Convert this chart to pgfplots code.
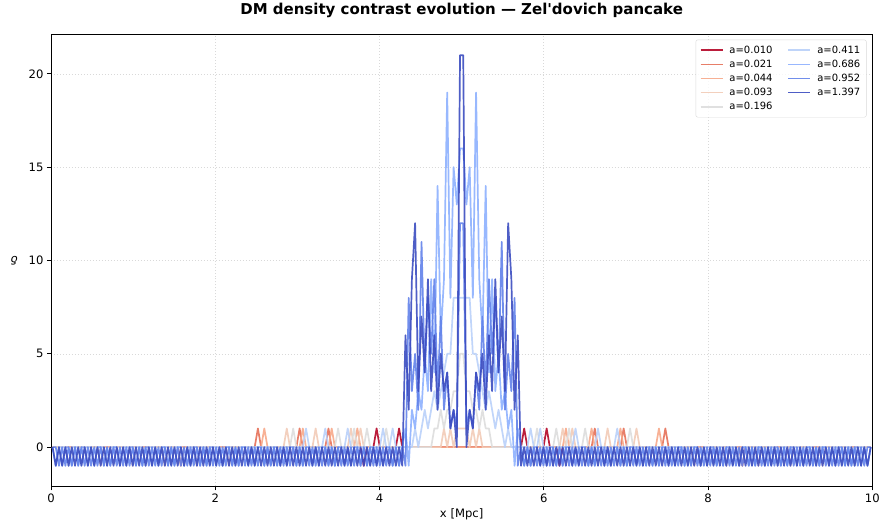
\documentclass[border=0pt]{standalone}
\usepackage{fontspec}
\setmainfont{DejaVu Sans}
\usepackage{pgfplots}
\pgfplotsset{compat=1.18}
\definecolor{c1}{HTML}{B40426}
\definecolor{c2}{HTML}{E57058}
\definecolor{c3}{HTML}{F7A889}
\definecolor{c4}{HTML}{F2CBB7}
\definecolor{c5}{HTML}{DDDDDD}
\definecolor{c6}{HTML}{B9D0F9}
\definecolor{c7}{HTML}{8DB0FE}
\definecolor{c8}{HTML}{6282EA}
\definecolor{c9}{HTML}{3B4CC0}
\tikzset{dl/.style={line width=1.7pt, line join=round, draw opacity=0.9}}
\begin{document}
\begin{tikzpicture}
\begin{axis}[
  scale only axis, width=822pt, height=452pt,
  xmin=-0.5, xmax=255.5, ymin=-2.1, ymax=22.1,
  xtick={-0.5,50.7,101.9,153.1,204.3,255.5}, xticklabels={0,2,4,6,8,10},
  ytick={0,5,10,15,20},
  tick align=outside, tick pos=left, major tick length=4pt,
  every tick/.style={black, line width=0.9pt},
  axis line style={line width=0.9pt},
  grid=major, grid style={gray!30, line width=0.6pt, dash pattern=on 1pt off 2pt},
  ticklabel style={font=\fontsize{11.6}{14}\selectfont},
  /pgf/number format/assume math mode=true,
  title={\textbf{DM density contrast evolution — Zel\textquotesingle dovich pancake}},
  title style={at={(axis description cs:0.5,1)}, anchor=base, yshift=14pt, font=\fontsize{15}{18}\selectfont},
  xlabel={x [Mpc]},
  xlabel style={at={(axis description cs:0.5,0)}, anchor=base, yshift=-31pt, font=\fontsize{11.6}{14}\selectfont},
  ylabel={\itshape δ},
  ylabel style={at={(axis description cs:-0.045,0.5)}, anchor=center, rotate=90, font=\fontsize{11.6}{14}\selectfont},
  legend columns=2,
  legend cell align=left,
  legend image code/.code={\draw[#1] (0pt,0pt) -- (22pt,0pt);},
  legend style={at={(rel axis cs:0.993,0.989)}, anchor=north east, draw=black!15, rounded corners=2pt,
    fill=white, fill opacity=0.8, text opacity=1, font=\fontsize{10}{12}\selectfont,
    row sep=1.2pt, inner sep=4pt,
    /tikz/every odd column/.append style={column sep=4pt},
    /tikz/every even column/.append style={column sep=13pt}},
]
% a=0.010
\addplot[c1, dl, forget plot] coordinates {(0,0)(96,0)(97,-1)(98,0)(100,0)(101,1)(102,0)(107,0)(108,1)(109,0)(146,0)(147,1)(148,0)(153,0)(154,1)(155,0)(157,0)(158,-1)(159,0)(255,0)};
% a=0.021
\addplot[c2, dl, forget plot] coordinates {(0,0)(39,0)(40,-1)(41,0)(63,0)(64,1)(65,0)(76,0)(77,1)(78,0)(85,0)(86,1)(87,0)(168,0)(169,1)(170,0)(177,0)(178,1)(179,0)(190,0)(191,1)(192,0)(214,0)(215,-1)(216,0)(255,0)};
% a=0.044
\addplot[c3, dl, forget plot] coordinates {(0,0)(24,0)(25,-1)(26,0)(44,0)(45,-1)(46,0)(65,0)(66,1)(67,0)(77,0)(78,1)(79,0)(86,0)(87,1)(88,0)(94,0)(95,1)(96,0)(159,0)(160,1)(161,0)(167,0)(168,1)(169,0)(176,0)(177,1)(178,0)(188,0)(189,1)(190,0)(209,0)(210,-1)(211,0)(229,0)(230,-1)(231,0)(255,0)};
% a=0.093
\addplot[c4, dl, forget plot] coordinates {(0,0)(14,0)(15,-1)(16,0)(34,0)(35,-1)(36,0)(54,0)(55,-1)(56,0)(72,0)(73,1)(74,0)(81,0)(82,1)(83,0)(92,0)(93,1)(94,0)(95,0)(96,1)(97,0)(121,0)(122,1)(123,0)(124,1)(125,0)(126,1)(127,1)(128,1)(129,1)(130,0)(131,1)(132,0)(133,1)(134,0)(158,0)(159,1)(160,0)(161,0)(162,1)(163,0)(172,0)(173,1)(174,0)(181,0)(182,1)(183,0)(199,0)(200,-1)(201,0)(219,0)(220,-1)(221,0)(239,0)(240,-1)(241,0)(255,0)};
% a=0.196
\addplot[c5, dl, forget plot] coordinates {(0,0)(4,0)(5,-1)(6,0)(16,0)(17,-1)(18,0)(28,0)(29,-1)(30,0)(40,0)(41,-1)(42,0)(52,0)(53,-1)(54,0)(74,0)(75,1)(76,0)(88,0)(89,1)(90,0)(93,0)(94,1)(95,0)(97,0)(98,1)(99,0)(103,0)(104,1)(105,0)(118,0)(119,1)(120,1)(121,2)(122,1)(123,2)(124,2)(125,3)(126,3)(127,5)(128,5)(129,3)(130,3)(131,2)(132,2)(133,1)(134,2)(135,1)(136,1)(137,0)(150,0)(151,1)(152,0)(156,0)(157,1)(158,0)(160,0)(161,1)(162,0)(165,0)(166,1)(167,0)(179,0)(180,1)(181,0)(201,0)(202,-1)(203,0)(213,0)(214,-1)(215,0)(225,0)(226,-1)(227,0)(237,0)(238,-1)(239,0)(249,0)(250,-1)(251,0)(255,0)};
% a=0.411
\addplot[c6, dl, forget plot] coordinates {(0,0)(1,-1)(2,0)(4,0)(5,-1)(6,0)(8,0)(9,-1)(10,0)(12,0)(13,-1)(14,0)(16,0)(17,-1)(18,0)(20,0)(21,-1)(22,0)(24,0)(25,-1)(26,0)(28,0)(29,-1)(30,0)(32,0)(33,-1)(34,0)(36,0)(37,-1)(38,0)(40,0)(41,-1)(42,0)(44,0)(45,-1)(46,0)(48,0)(49,-1)(50,0)(52,0)(53,-1)(54,0)(56,0)(57,-1)(58,0)
(69,0)(70,-1)(71,0)(78,0)(79,1)(80,0)(81,-1)(82,0)(84,0)(85,1)(86,0)(87,0)(88,-1)(89,0)(91,0)(92,1)(93,0)(98,0)(99,-1)(100,0)(102,0)(103,1)(104,0)(105,0)(106,1)(107,0)(112,0)
(113,1)(114,0)(115,1)(116,2)(117,1)(118,2)(119,3)(120,2)(121,3)(122,4)(123,5)(124,5)(125,8)(126,8)(127,8)(128,8)(129,8)(130,8)(131,5)(132,5)(133,4)(134,3)(135,2)(136,3)(137,2)(138,1)(139,2)(140,1)(141,0)(142,1)(143,0)
(148,0)(149,1)(150,0)(151,0)(152,1)(153,0)(155,0)(156,-1)(157,0)(162,0)(163,1)(164,0)(166,0)(167,-1)(168,0)(169,0)(170,1)(171,0)(173,0)(174,-1)(175,0)(176,1)(177,0)(184,0)(185,-1)(186,0)
(197,0)(198,-1)(199,0)(201,0)(202,-1)(203,0)(205,0)(206,-1)(207,0)(209,0)(210,-1)(211,0)(213,0)(214,-1)(215,0)(217,0)(218,-1)(219,0)(221,0)(222,-1)(223,0)(225,0)(226,-1)(227,0)(229,0)(230,-1)(231,0)(233,0)(234,-1)(235,0)(237,0)(238,-1)(239,0)(241,0)(242,-1)(243,0)(245,0)(246,-1)(247,0)(249,0)(250,-1)(251,0)(253,0)(254,-1)(255,0)};
% a=0.686
\addplot[c7, dl, forget plot] coordinates {
(0,0)(1,-1)(2,0)(3,-1)(4,0)(5,0)(6,-1)(7,0)(8,-1)(9,0)
(10,0)(11,-1)(12,0)(13,-1)(14,0)(15,0)(16,-1)(17,0)(18,-1)(19,0)
(20,0)(21,-1)(22,0)(23,-1)(24,0)(25,0)(26,-1)(27,0)(28,-1)(29,0)
(30,0)(31,-1)(32,0)(33,-1)(34,0)(35,0)(36,-1)(37,0)(38,-1)(39,0)
(40,0)(41,-1)(42,0)(43,-1)(44,0)(45,0)(46,-1)(47,0)(48,-1)(49,0)
(50,0)(51,-1)(52,0)(53,-1)(54,0)(55,0)(56,-1)(57,0)(58,-1)(59,0)
(60,0)(61,-1)(62,0)(63,-1)(64,0)(65,0)(66,-1)(67,0)(68,-1)(69,0)
(70,0)(71,-1)(72,0)(73,-1)(74,0)(75,0)(76,-1)(77,0)(78,-1)(79,0)
(80,0)(81,-1)(82,0)(83,-1)(84,0)(85,0)(86,-1)(87,0)(88,-1)(89,0)
(90,0)(91,-1)(92,0)(93,-1)(94,0)(95,0)(96,-1)(97,0)(98,-1)(99,0)
(100,0)(101,-1)(102,0)(103,-1)(104,0)(105,0)(106,-1)(107,0)(108,-1)
(109,0)(110,1)(111,-1)(112,2)(113,1)(114,3)(115,2)(116,5)(117,3)(118,9)(119,4)(120,14)(121,6)(122,9)(123,19)(124,8)(125,15)(126,13)(127,16)
(128,16)(129,13)(130,15)(131,8)(132,19)(133,9)(134,6)(135,14)(136,4)(137,9)(138,3)(139,5)(140,2)(141,3)(142,1)(143,2)(144,-1)(145,1)(146,0)
(147,-1)(148,0)(149,-1)
(150,0)(151,0)(152,-1)(153,0)(154,-1)(155,0)(156,0)(157,-1)(158,0)(159,-1)
(160,0)(161,0)(162,-1)(163,0)(164,-1)(165,0)(166,0)(167,-1)(168,0)(169,-1)
(170,0)(171,0)(172,-1)(173,0)(174,-1)(175,0)(176,0)(177,-1)(178,0)(179,-1)
(180,0)(181,0)(182,-1)(183,0)(184,-1)(185,0)(186,0)(187,-1)(188,0)(189,-1)
(190,0)(191,0)(192,-1)(193,0)(194,-1)(195,0)(196,0)(197,-1)(198,0)(199,-1)
(200,0)(201,0)(202,-1)(203,0)(204,-1)(205,0)(206,0)(207,-1)(208,0)(209,-1)
(210,0)(211,0)(212,-1)(213,0)(214,-1)(215,0)(216,0)(217,-1)(218,0)(219,-1)
(220,0)(221,0)(222,-1)(223,0)(224,-1)(225,0)(226,0)(227,-1)(228,0)(229,-1)
(230,0)(231,0)(232,-1)(233,0)(234,-1)(235,0)(236,0)(237,-1)(238,0)(239,-1)
(240,0)(241,0)(242,-1)(243,0)(244,-1)(245,0)(246,0)(247,-1)(248,0)(249,-1)
(250,0)(251,0)(252,-1)(253,0)(254,-1)(255,0)};
% a=0.952
\addplot[c8, dl, forget plot] coordinates {
(0,0)(1,0)(2,-1)(3,0)(4,-1)(5,0)(6,-1)(7,0)(8,-1)(9,0)
(10,-1)(11,0)(12,-1)(13,0)(14,-1)(15,0)(16,-1)(17,0)(18,-1)(19,0)
(20,-1)(21,0)(22,-1)(23,0)(24,-1)(25,0)(26,-1)(27,0)(28,-1)(29,0)
(30,-1)(31,0)(32,-1)(33,0)(34,-1)(35,0)(36,-1)(37,0)(38,-1)(39,0)
(40,-1)(41,0)(42,-1)(43,0)(44,-1)(45,0)(46,-1)(47,0)(48,-1)(49,0)
(50,-1)(51,0)(52,-1)(53,0)(54,-1)(55,0)(56,-1)(57,0)(58,-1)(59,0)
(60,-1)(61,0)(62,-1)(63,0)(64,-1)(65,0)(66,-1)(67,0)(68,-1)(69,0)
(70,-1)(71,0)(72,-1)(73,0)(74,-1)(75,0)(76,-1)(77,0)(78,-1)(79,0)
(80,-1)(81,0)(82,-1)(83,0)(84,-1)(85,0)(86,-1)(87,0)(88,-1)(89,0)
(90,-1)(91,0)(92,-1)(93,0)(94,-1)(95,0)(96,-1)(97,0)(98,-1)(99,0)
(100,-1)(101,0)(102,-1)(103,0)(104,-1)(105,0)(106,-1)(107,0)(108,-1)(109,0)(110,-1)
(111,8)(112,3)(113,5)(114,2)(115,11)(116,4)(117,8)(118,5)(119,9)(120,3)(121,7)(122,2)(123,4)(124,1)(125,2)(126,1)(127,12)
(128,12)(129,1)(130,2)(131,1)(132,4)(133,2)(134,7)(135,3)(136,9)(137,5)(138,8)(139,4)(140,11)(141,2)(142,5)(143,3)(144,8)
(145,-1)(146,0)(147,-1)(148,0)(149,-1)
(150,0)(151,-1)(152,0)(153,-1)(154,0)(155,-1)(156,0)(157,-1)(158,0)(159,-1)
(160,0)(161,-1)(162,0)(163,-1)(164,0)(165,-1)(166,0)(167,-1)(168,0)(169,-1)
(170,0)(171,-1)(172,0)(173,-1)(174,0)(175,-1)(176,0)(177,-1)(178,0)(179,-1)
(180,0)(181,-1)(182,0)(183,-1)(184,0)(185,-1)(186,0)(187,-1)(188,0)(189,-1)
(190,0)(191,-1)(192,0)(193,-1)(194,0)(195,-1)(196,0)(197,-1)(198,0)(199,-1)
(200,0)(201,-1)(202,0)(203,-1)(204,0)(205,-1)(206,0)(207,-1)(208,0)(209,-1)
(210,0)(211,-1)(212,0)(213,-1)(214,0)(215,-1)(216,0)(217,-1)(218,0)(219,-1)
(220,0)(221,-1)(222,0)(223,-1)(224,0)(225,-1)(226,0)(227,-1)(228,0)(229,-1)
(230,0)(231,-1)(232,0)(233,-1)(234,0)(235,-1)(236,0)(237,-1)(238,0)(239,-1)
(240,0)(241,-1)(242,0)(243,-1)(244,0)(245,-1)(246,0)(247,-1)(248,0)(249,-1)
(250,0)(251,-1)(252,0)(253,-1)(254,0)(255,0)};
% a=1.397
\addplot[c9, dl, forget plot] coordinates {
(0,0)(1,-1)(2,0)(3,-1)(4,0)(5,-1)(6,0)(7,-1)(8,0)(9,-1)
(10,0)(11,-1)(12,0)(13,-1)(14,0)(15,-1)(16,0)(17,-1)(18,0)(19,-1)
(20,0)(21,-1)(22,0)(23,-1)(24,0)(25,-1)(26,0)(27,-1)(28,0)(29,-1)
(30,0)(31,-1)(32,0)(33,-1)(34,0)(35,-1)(36,0)(37,-1)(38,0)(39,-1)
(40,0)(41,-1)(42,0)(43,-1)(44,0)(45,-1)(46,0)(47,-1)(48,0)(49,-1)
(50,0)(51,-1)(52,0)(53,-1)(54,0)(55,-1)(56,0)(57,-1)(58,0)(59,-1)
(60,0)(61,-1)(62,0)(63,-1)(64,0)(65,-1)(66,0)(67,-1)(68,0)(69,-1)
(70,0)(71,-1)(72,0)(73,-1)(74,0)(75,-1)(76,0)(77,-1)(78,0)(79,-1)
(80,0)(81,-1)(82,0)(83,-1)(84,0)(85,-1)(86,0)(87,-1)(88,0)(89,-1)
(90,0)(91,-1)(92,0)(93,-1)(94,0)(95,-1)(96,0)(97,-1)(98,0)(99,-1)
(100,0)(101,-1)(102,0)(103,-1)(104,0)(105,-1)(106,0)(107,-1)(108,0)
(109,-1)(110,6)(111,2)(112,9)(113,12)(114,3)(115,7)(116,4)(117,9)(118,3)(119,6)(120,2)(121,5)(122,3)(123,4)(124,1)(125,2)(126,0)(127,21)
(128,21)(129,0)(130,2)(131,1)(132,4)(133,3)(134,5)(135,2)(136,6)(137,3)(138,9)(139,4)(140,7)(141,3)(142,12)(143,9)(144,2)(145,6)(146,-1)
(147,0)(148,-1)(149,0)
(150,-1)(151,0)(152,-1)(153,0)(154,-1)(155,0)(156,-1)(157,0)(158,-1)(159,0)
(160,-1)(161,0)(162,-1)(163,0)(164,-1)(165,0)(166,-1)(167,0)(168,-1)(169,0)
(170,-1)(171,0)(172,-1)(173,0)(174,-1)(175,0)(176,-1)(177,0)(178,-1)(179,0)
(180,-1)(181,0)(182,-1)(183,0)(184,-1)(185,0)(186,-1)(187,0)(188,-1)(189,0)
(190,-1)(191,0)(192,-1)(193,0)(194,-1)(195,0)(196,-1)(197,0)(198,-1)(199,0)
(200,-1)(201,0)(202,-1)(203,0)(204,-1)(205,0)(206,-1)(207,0)(208,-1)(209,0)
(210,-1)(211,0)(212,-1)(213,0)(214,-1)(215,0)(216,-1)(217,0)(218,-1)(219,0)
(220,-1)(221,0)(222,-1)(223,0)(224,-1)(225,0)(226,-1)(227,0)(228,-1)(229,0)
(230,-1)(231,0)(232,-1)(233,0)(234,-1)(235,0)(236,-1)(237,0)(238,-1)(239,0)
(240,-1)(241,0)(242,-1)(243,0)(244,-1)(245,0)(246,-1)(247,0)(248,-1)(249,0)
(250,-1)(251,0)(252,-1)(253,0)(254,-1)(255,0)};
% legend (column-wise order as in reference)
\addlegendimage{c1, line width=1.7pt, draw opacity=0.9}\addlegendentry{a=0.010}
\addlegendimage{c6, line width=1.7pt, draw opacity=0.9}\addlegendentry{a=0.411}
\addlegendimage{c2, line width=1.7pt, draw opacity=0.9}\addlegendentry{a=0.021}
\addlegendimage{c7, line width=1.7pt, draw opacity=0.9}\addlegendentry{a=0.686}
\addlegendimage{c3, line width=1.7pt, draw opacity=0.9}\addlegendentry{a=0.044}
\addlegendimage{c8, line width=1.7pt, draw opacity=0.9}\addlegendentry{a=0.952}
\addlegendimage{c4, line width=1.7pt, draw opacity=0.9}\addlegendentry{a=0.093}
\addlegendimage{c9, line width=1.7pt, draw opacity=0.9}\addlegendentry{a=1.397}
\addlegendimage{c5, line width=1.7pt, draw opacity=0.9}\addlegendentry{a=0.196}
\end{axis}
\path[use as bounding box] ([xshift=-51pt,yshift=-37pt]current axis.south west) rectangle ([xshift=10pt,yshift=33pt]current axis.north east);
\end{tikzpicture}
\end{document}
